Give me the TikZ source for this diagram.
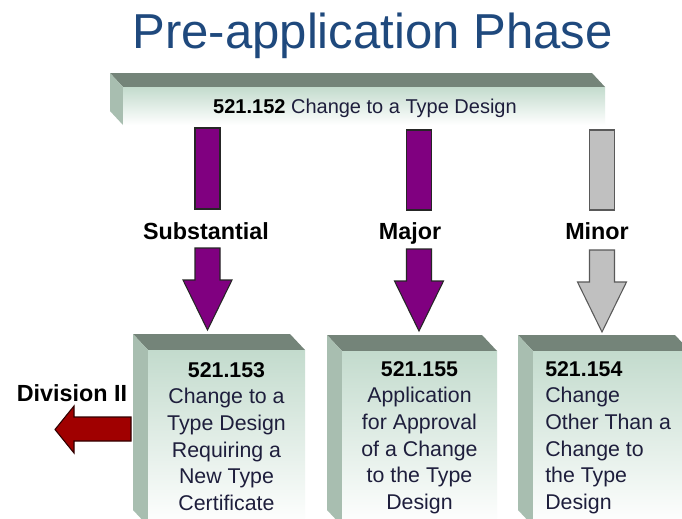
\documentclass[tikz,border=0pt]{standalone}
\usepackage{fontspec}
\setmainfont{Liberation Sans}
\definecolor{titleblue}{HTML}{1F497D}
\definecolor{facefront}{HTML}{C3DBCD}
\definecolor{faceside}{HTML}{A8BEB0}
\definecolor{facetop}{HTML}{748479}
\definecolor{arrpurple}{HTML}{800080}
\definecolor{arrgray}{HTML}{C0C0C0}
\definecolor{arrred}{HTML}{A00000}
\definecolor{bodytext}{HTML}{1E1E3C}
\newcommand\drawblock[6]{%
  \fill[facetop] (#1,#2) -- (#3,#2) -- (#3+#5,#2+#6) -- (#1+#5,#2+#6) -- cycle;
  \fill[faceside] (#1,#2) -- (#1,#4) -- (#1+#5,#4+#6) -- (#1+#5,#2+#6) -- cycle;
  \shade[top color=facefront,bottom color=white] (#1,#2) rectangle (#3,#4);
}
\newcommand\blockarrow[6]{% cx, ytop, ybreak, ylow, yhead, ytip
  \path[arrstyle] (#1-12.5,#2) rectangle (#1+12.5,#3);
  \path[arrstyle] (#1-12.5,#4) -- (#1-12.5,#5) -- (#1-24.5,#5) -- (#1,#6) -- (#1+24.5,#5) -- (#1+12.5,#5) -- (#1+12.5,#4) -- cycle;
}
\tikzset{
  x=0.75pt, y=-0.75pt,
  purplearrow/.style={fill=arrpurple, draw=black!85, line width=0.8pt, line join=miter},
  grayarrow/.style={fill=arrgray, draw=black!65, line width=0.8pt, line join=miter},
  redarrow/.style={fill=arrred, draw=black!70!arrred, line width=0.8pt, line join=miter},
  boxtext/.style={inner sep=0pt, text=bodytext, font=\fontsize{16}{20}\selectfont},
  arrlabel/.style={inner sep=0pt, anchor=base, text=black, font=\fontsize{17.5}{21}\selectfont\bfseries},
}
\begin{document}
\begin{tikzpicture}
\useasboundingbox (0,0) rectangle (682,518);
\clip (0,0) rectangle (682,518);
\fill[white] (0,0) rectangle (682,518);

% title
\node[anchor=base, inner sep=0pt, text=titleblue, font=\fontsize{36.8}{40}\selectfont] (title) at (372.5,48) {Pre-application Phase};

% top block
\drawblock{123}{87}{605}{125}{-13}{-14}
\node[boxtext, font=\fontsize{15}{18}\selectfont] (tb) at (365,108) {\textcolor{black}{\textbf{521.152}} Change to a Type Design};

% bottom blocks
\drawblock{148}{350}{305}{526}{-15}{-16}
\drawblock{342}{351}{497}{526}{-15}{-16}
\drawblock{533}{351}{690}{526}{-15}{-16}

\node[boxtext, align=center] (b1) at (226.5,436.5) {\textcolor{black}{\textbf{521.153}}\\Change to a\\Type Design\\Requiring a\\New Type\\Certificate};
\node[boxtext, align=center] (b2) at (419.5,437.5) {\textcolor{black}{\textbf{521.155}}\\Application\\for Approval\\of a Change\\to the Type\\Design};
\node[boxtext, align=left, anchor=west] (b3) at (545,437.5) {\textcolor{black}{\textbf{521.154}}\\Change\\Other Than a\\Change to\\the Type\\Design};

% arrows
\tikzset{arrstyle/.style={purplearrow}}
\blockarrow{207.5}{128}{209}{248}{280}{330}
\blockarrow{419}{130}{210}{249}{281}{331}
\tikzset{arrstyle/.style={grayarrow}}
\blockarrow{602}{130}{210}{250}{282}{332}

\node[arrlabel] (l1) at (206,239) {Substantial};
\node[arrlabel] (l2) at (410,239) {Major};
\node[arrlabel] (l3) at (597,239) {Minor};

% Division II
\node[arrlabel] (div) at (72,401) {Division II};
\path[redarrow] (131,417) -- (74,417) -- (74,406) -- (55,429.5) -- (74,453) -- (74,441) -- (131,441) -- cycle;
\end{tikzpicture}
\end{document}
